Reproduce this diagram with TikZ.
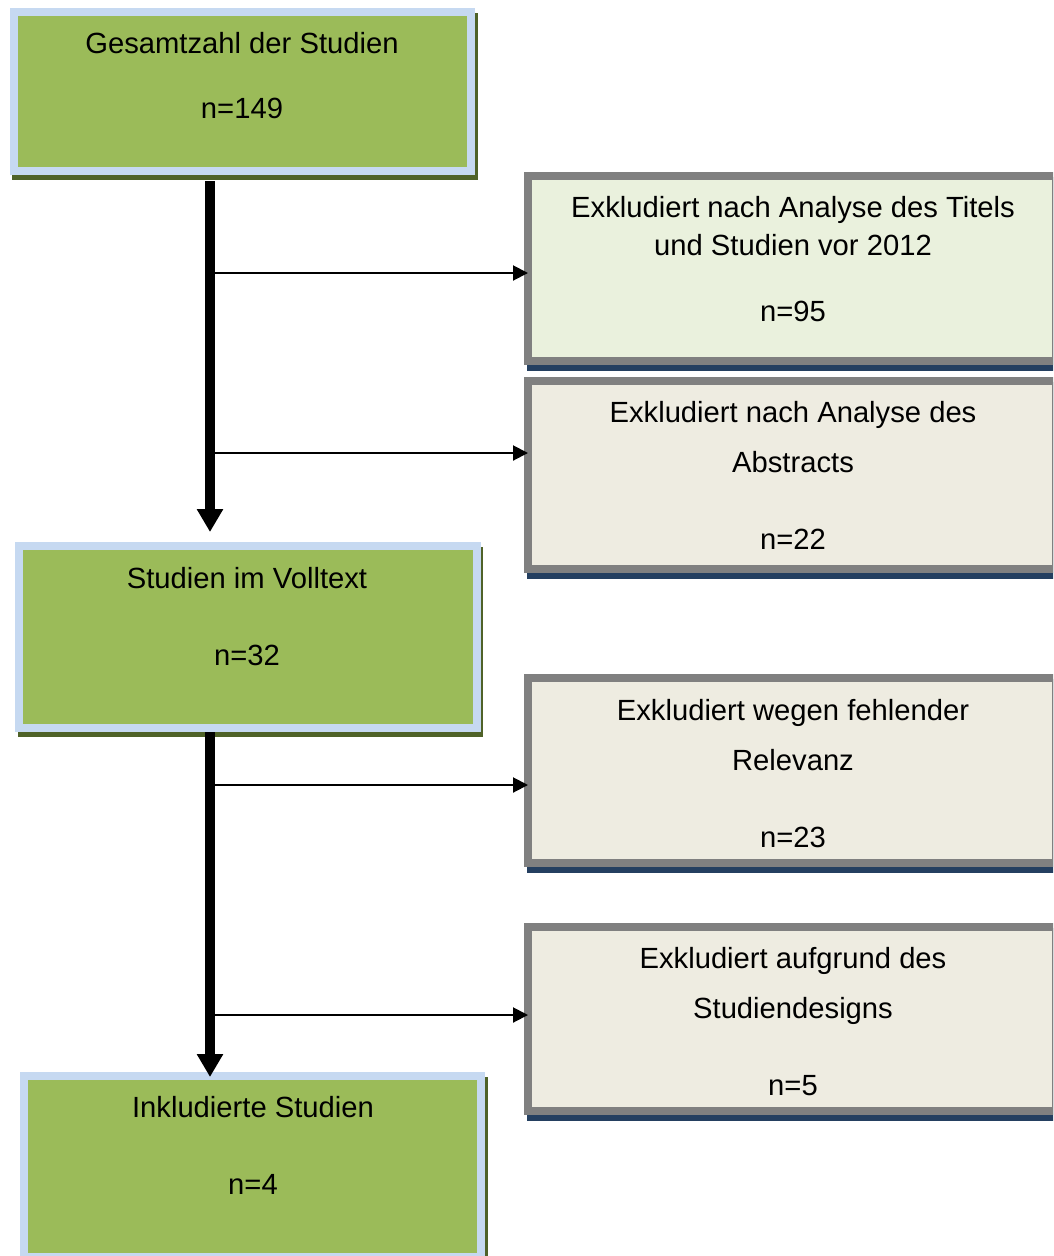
\documentclass[tikz,border=0pt]{standalone}
\usepackage{fontspec}
\setmainfont{Liberation Sans}
\usetikzlibrary{arrows.meta,calc}
\definecolor{bluebord}{HTML}{C6D9F1}
\definecolor{greenfill}{HTML}{9BBB59}
\definecolor{oliveshadow}{HTML}{4F6228}
\definecolor{graybord}{HTML}{808080}
\definecolor{lightgreenfill}{HTML}{EAF1DD}
\definecolor{beigefill}{HTML}{EEECE1}
\definecolor{darkblueshadow}{HTML}{243F60}
\tikzset{
  greenbox/.style={draw=bluebord, fill=greenfill, line width=8pt, rectangle, inner sep=0pt, minimum width=457pt},
  graybox/.style={draw=graybord, line width=8pt, rectangle, inner sep=0pt, minimum width=528pt},
  txt/.style={anchor=base, inner sep=0pt, font=\fontsize{29.2}{35}\selectfont},
  mainarrow/.style={line width=10pt, -{Triangle[length=23pt,width=25pt]}},
  sidearrow/.style={line width=2pt, -{Triangle[length=15pt,width=15pt]}, shorten >=-4pt},
}
\begin{document}
\begin{tikzpicture}[x=1pt,y=-1pt]
\useasboundingbox (0,0) rectangle (1053,1256);
\clip (0,0) rectangle (1053,1256);

% shadows
\fill[oliveshadow] (12,13) rectangle (478,180);
\fill[oliveshadow] (18,547) rectangle (483,737);
\fill[oliveshadow] (23,1077) rectangle (488,1266);
\fill[darkblueshadow] (527,177) rectangle (1063,371);
\fill[darkblueshadow] (527,382) rectangle (1063,579);
\fill[darkblueshadow] (527,679) rectangle (1063,873);
\fill[darkblueshadow] (527,928) rectangle (1063,1121);

% green boxes
\node[greenbox, minimum height=159pt] (b1) at (242,91.5) {};
\node[greenbox, minimum width=458pt, minimum height=182pt] (b2) at (247.5,637) {};
\node[greenbox, minimum height=181pt] (b3) at (252.5,1166.5) {};

% gray boxes
\node[graybox, fill=lightgreenfill, minimum height=185pt] (e1) at (792,268.5) {};
\node[graybox, fill=beigefill, minimum height=188pt] (e2) at (792,475) {};
\node[graybox, fill=beigefill, minimum height=185pt] (e3) at (792,770.5) {};
\node[graybox, fill=beigefill, minimum height=184pt] (e4) at (792,1019) {};

% texts
\node[txt] (t1a) at (242,53) {Gesamtzahl der Studien};
\node[txt] (t1b) at (242,118) {n=149};
\node[txt] (t2a) at (247,588) {Studien im Volltext};
\node[txt] (t2b) at (247,665) {n=32};
\node[txt] (t3a) at (253,1117) {Inkludierte Studien};
\node[txt] (t3b) at (253,1194) {n=4};

\node[txt] (ea1) at (793,217) {Exkludiert nach Analyse des Titels};
\node[txt] (ea2) at (793,255) {und Studien vor 2012};
\node[txt] (ea3) at (793,321) {n=95};
\node[txt] (eb1) at (793,422) {Exkludiert nach Analyse des};
\node[txt] (eb2) at (793,472) {Abstracts};
\node[txt] (eb3) at (793,549) {n=22};
\node[txt] (ec1) at (793,720) {Exkludiert wegen fehlender};
\node[txt] (ec2) at (793,770) {Relevanz};
\node[txt] (ec3) at (793,847) {n=23};
\node[txt] (ed1) at (793,968) {Exkludiert aufgrund des};
\node[txt] (ed2) at (793,1018) {Studiendesigns};
\node[txt] (ed3) at (793,1095) {n=5};

% main vertical arrows
\coordinate (vx) at (210,0);
\draw[mainarrow, shorten <=6pt, shorten >=10pt] (vx |- b1.south) -- (vx |- b2.north);
\draw[mainarrow, shorten >=-5pt] (vx |- b2.south) -- (vx |- b3.north);

% side arrows
\coordinate (s1) at (210,273);
\coordinate (s2) at (210,453);
\coordinate (s3) at (210,785);
\coordinate (s4) at (210,1015);
\draw[sidearrow] (s1) -- (e1.west |- s1);
\draw[sidearrow] (s2) -- (e2.west |- s2);
\draw[sidearrow] (s3) -- (e3.west |- s3);
\draw[sidearrow] (s4) -- (e4.west |- s4);
\end{tikzpicture}
\end{document}
